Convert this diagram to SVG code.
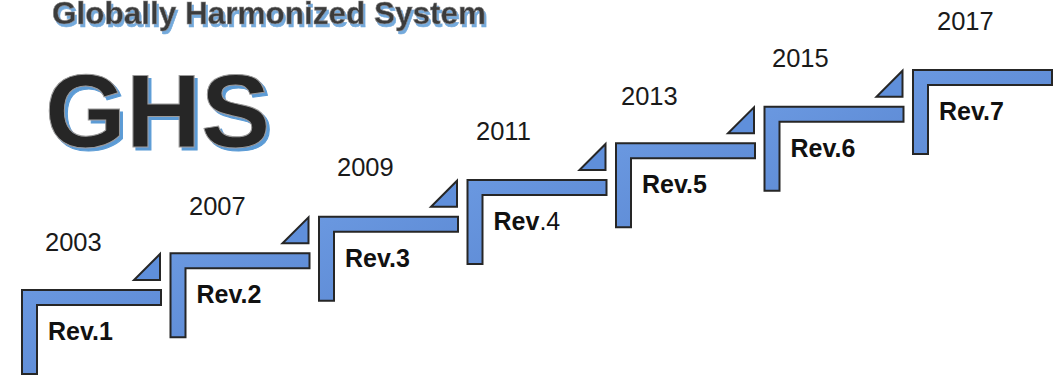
<svg xmlns="http://www.w3.org/2000/svg" width="1063" height="383" viewBox="0 0 1063 383">
<defs>
<filter id="shadowT" x="-5%" y="-30%" width="110%" height="160%">
<feDropShadow dx="2" dy="3" stdDeviation="0.6" flood-color="#5b9bd5" flood-opacity="0.85"/>
</filter>
<filter id="shadowG" x="-5%" y="-10%" width="115%" height="125%">
<feDropShadow dx="3" dy="3" stdDeviation="0.5" flood-color="#5b9bd5" flood-opacity="1"/>
</filter>
<linearGradient id="blue" x1="0" y1="0" x2="1" y2="1">
<stop offset="0" stop-color="#6a98e0"/>
<stop offset="1" stop-color="#5a87d2"/>
</linearGradient>
</defs>
<style>
.step{fill:url(#blue);stroke:#262626;stroke-width:2;stroke-linejoin:miter}
.tri{fill:#5f8fdb;stroke:#262626;stroke-width:2;stroke-linejoin:miter}
.year{font-family:"Liberation Sans",Arial,sans-serif;font-size:25.5px;fill:#1a1a1a}
.rev{font-family:"Liberation Sans",Arial,sans-serif;font-size:25px;font-weight:bold;fill:#111}
.reg{font-weight:normal}
.title{font-family:"Liberation Sans",Arial,sans-serif;font-size:31.5px;font-weight:bold;fill:#3a3a3a;stroke:#8a8a8a;stroke-width:0.6}
.ghs{font-family:"Liberation Sans",Arial,sans-serif;font-size:104px;font-weight:bold;fill:#262626;stroke:#9a9a9a;stroke-width:1}
</style>
<rect width="1063" height="383" fill="#ffffff"/>
<g id="header">
<text class="title" x="52" y="24" filter="url(#shadowT)">Globally Harmonized System</text>
<text class="ghs" x="45" y="147" filter="url(#shadowG)">GHS</text>
</g>
<g id="connectors"></g>
<g id="rev1" transform="translate(22,290)">
<path class="step" d="M0,0 H139 V15 H15 V84 H0 Z"/>
<path class="tri" d="M138,-36 V-10 H112 Z"/>
<text class="rev" x="26" y="50">Rev.1</text>
</g>
<g id="rev2" transform="translate(170.5,253.3)">
<path class="step" d="M0,0 H139 V15 H15 V84 H0 Z"/>
<path class="tri" d="M138,-36 V-10 H112 Z"/>
<text class="rev" x="26" y="50">Rev.2</text>
</g>
<g id="rev3" transform="translate(319,216.7)">
<path class="step" d="M0,0 H139 V15 H15 V84 H0 Z"/>
<path class="tri" d="M138,-36 V-10 H112 Z"/>
<text class="rev" x="26" y="50">Rev.3</text>
</g>
<g id="rev4" transform="translate(467.5,180)">
<path class="step" d="M0,0 H139 V15 H15 V84 H0 Z"/>
<path class="tri" d="M138,-36 V-10 H112 Z"/>
<text class="rev" x="26" y="50">Rev<tspan class="reg">.4</tspan></text>
</g>
<g id="rev5" transform="translate(616,143.3)">
<path class="step" d="M0,0 H139 V15 H15 V84 H0 Z"/>
<path class="tri" d="M138,-36 V-10 H112 Z"/>
<text class="rev" x="26" y="50">Rev.5</text>
</g>
<g id="rev6" transform="translate(764.5,106.7)">
<path class="step" d="M0,0 H139 V15 H15 V84 H0 Z"/>
<path class="tri" d="M138,-36 V-10 H112 Z"/>
<text class="rev" x="26" y="50">Rev.6</text>
</g>
<g id="rev7" transform="translate(913,70)">
<path class="step" d="M0,0 H139 V15 H15 V84 H0 Z"/>
<text class="rev" x="26" y="50">Rev.7</text>
</g>
<g id="years">
<text class="year" x="45" y="251">2003</text>
<text class="year" x="189" y="215">2007</text>
<text class="year" x="337" y="176">2009</text>
<text class="year" x="476" y="140">2011</text>
<text class="year" x="621" y="105">2013</text>
<text class="year" x="772" y="67">2015</text>
<text class="year" x="937" y="30">2017</text>
</g>
</svg>
